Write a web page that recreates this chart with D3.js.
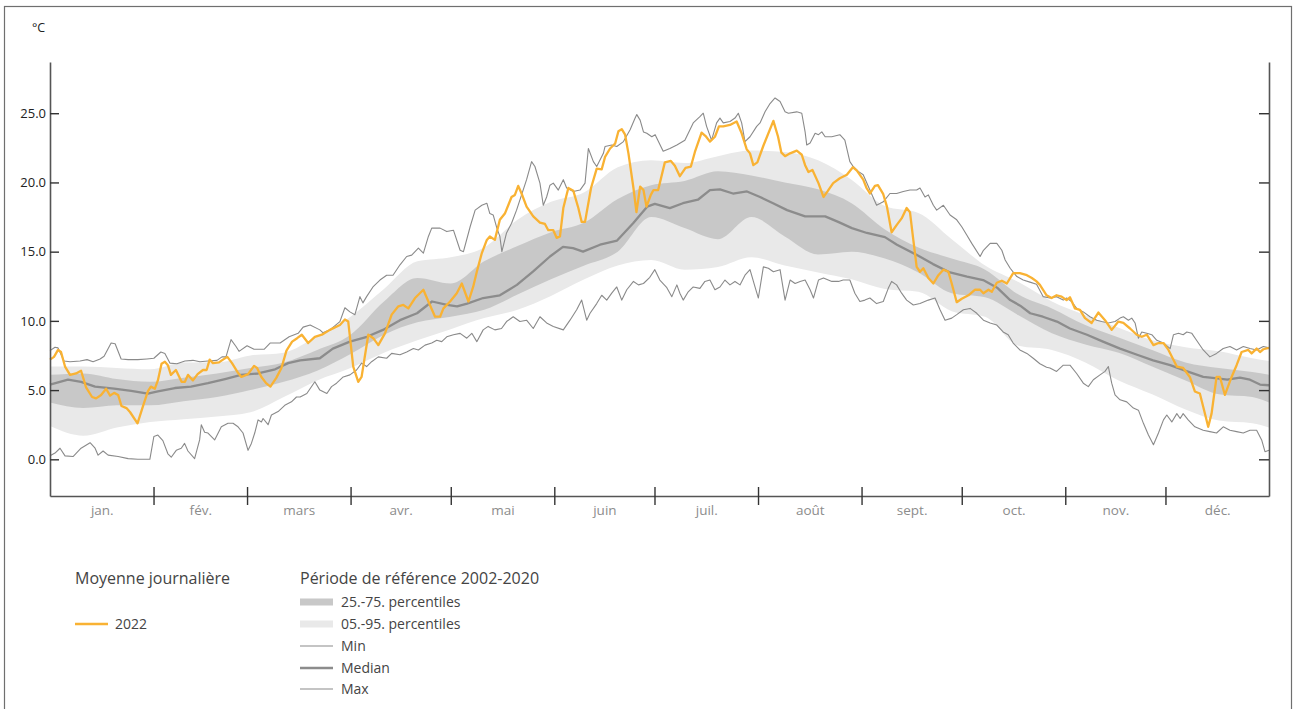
<!DOCTYPE html>
<html>
<head>
<meta charset="utf-8">
<script src="https://cdn.jsdelivr.net/npm/d3@7"></script>
<style>
  html, body { margin: 0; padding: 0; background: #fff; }
  svg { display: block; font-family: "Open Sans", "Noto Sans", sans-serif; }
</style>
</head>
<body>
<svg id="chart" width="1293" height="709"></svg>
<script>
// Daily mean temperature 2022 against the 2002-2020 reference period.
// Day of year (0 = 1 January) and temperature in °C.

const monthLabels = ["jan.", "fév.", "mars", "avr.", "mai", "juin", "juil.", "août", "sept.", "oct.", "nov.", "déc."];
const monthStartDays = [0, 31, 59, 90, 120, 151, 181, 212, 243, 273, 304, 334, 365];
const yTicks = [0, 5, 10, 15, 20, 25];

// Daily mean 2022
const obs2022 = [[0,7.2],[1.2,7.4],[2.4,7.9],[3.3,7.75],[4.5,6.7],[6,6.1],[7.8,6.2],[9.3,6.4],[10.8,5.2],[12.6,4.5],[13.8,4.4],[15.3,4.65],[16.8,5.1],[18,4.6],[19.2,4.8],[20.4,4.65],[21.4,3.85],[22.9,3.7],[24,3.4],[26.2,2.6],[27.8,3.8],[29.3,4.9],[30.2,5.25],[31.4,5.1],[32.3,5.7],[33.4,6.9],[34.4,7.05],[35.3,6.8],[36.2,6.1],[37.7,6.45],[39.4,5.6],[40.4,5.6],[41.3,6.1],[42.8,5.7],[44.2,6.15],[45.8,6.45],[46.9,6.45],[47.8,7.2],[48.8,6.95],[50.6,7.0],[51.8,7.2],[53.1,7.4],[54.5,6.95],[56.3,6.25],[57.3,5.95],[59.3,6.15],[61.1,6.75],[62,6.6],[63.3,5.95],[64.7,5.5],[66,5.25],[67.8,5.9],[69.3,6.6],[70.8,7.85],[72.5,8.5],[74,8.75],[75.4,9.0],[77.3,8.4],[79.3,8.85],[81.4,9.0],[83.8,9.35],[86.8,9.7],[88.3,10.1],[89.3,9.95],[90.8,6.7],[92.3,5.6],[93.3,5.95],[95.3,9.0],[96.8,8.75],[98.3,8.25],[100.3,9.1],[102.3,10.45],[104.3,11.05],[105.8,11.15],[107.3,10.9],[109.3,11.65],[111.8,12.25],[113.3,11.4],[115.3,10.3],[116.8,10.3],[117.8,10.9],[119.8,11.4],[121.8,12.0],[123.3,12.7],[125.3,11.4],[126.7,12.45],[127.8,13.55],[129.3,14.9],[130.8,15.85],[131.7,16.1],[133.2,15.85],[134.7,17.3],[136.2,17.75],[138.2,18.95],[139.2,19.1],[140.2,19.75],[141.2,19.2],[142.7,18.25],[144.7,17.55],[146.7,17.1],[148.2,17.0],[149.2,16.55],[150.7,16.55],[151.7,16.0],[152.7,16.1],[153.7,18.15],[155.2,19.6],[156.7,19.4],[158.2,18.15],[159.2,17.15],[160.2,17.15],[162,19.6],[163.7,21.0],[165.2,20.95],[166.2,21.85],[167.7,22.45],[169.2,22.8],[170.2,23.7],[171.2,23.85],[172.2,23.45],[173.2,22.1],[174.7,19.6],[175.6,17.85],[176.7,19.7],[177.7,19.45],[178.6,18.25],[179.9,19.1],[180.7,19.45],[182.1,19.45],[184.1,21.45],[185.9,21.55],[187.1,21.2],[188.6,20.45],[190.3,21.05],[191.9,21.15],[193.1,22.2],[195.1,23.6],[196.3,23.35],[197.6,22.95],[199.1,23.3],[200.3,24.05],[201.6,24.05],[203.6,24.15],[205.6,24.4],[207.1,23.55],[208.6,22.4],[209.6,22.1],[210.6,21.25],[211.8,21.45],[213.6,22.65],[216.6,24.45],[218,23.3],[219,22.15],[220.1,21.9],[221.6,22.1],[223.6,22.3],[225.1,22.0],[226.1,21.25],[227.1,20.75],[228.3,20.9],[230.1,19.95],[231.6,18.95],[232.8,19.35],[234.5,19.95],[236.5,20.3],[238.6,20.55],[240.4,21.1],[241.6,20.85],[243.5,20.2],[244.5,19.6],[245.5,19.2],[247,19.75],[247.9,19.8],[249.5,19.15],[250.6,18.25],[252,16.4],[253.6,16.95],[255,17.4],[256.5,18.15],[257.5,17.85],[258.5,15.85],[259.5,13.9],[260.5,13.55],[261.5,13.8],[263,13.1],[264.5,12.7],[266,13.3],[267.5,13.7],[269,13.55],[270,12.7],[270.5,12.25],[271.5,11.35],[273,11.6],[275,11.85],[277,12.25],[278.5,12.25],[279.5,12.0],[281,12.25],[282,12.1],[283.5,12.75],[285,12.9],[286.5,12.7],[288.4,13.45],[290.4,13.45],[292.5,13.3],[294,13.1],[295.4,12.85],[296.4,12.6],[298.4,11.85],[299.9,11.65],[301.4,11.85],[302.9,11.75],[304.4,11.5],[305.4,11.7],[306.9,10.9],[308.4,10.8],[309.9,10.2],[311.9,9.85],[313.9,10.6],[315.9,10.05],[317.9,9.35],[319.9,9.95],[321.4,9.85],[323.4,9.45],[325.4,9.0],[326.9,8.85],[328.4,9.0],[330.4,8.25],[331.9,8.4],[333.4,8.4],[334.9,7.9],[337.4,6.7],[339.3,6.6],[341.3,5.95],[342.8,4.9],[344.3,4.75],[345.3,3.8],[346.8,2.35],[347.8,3.3],[349.3,5.95],[350.3,5.95],[351.8,4.65],[353.8,5.95],[355.3,6.8],[356.8,7.75],[358.8,7.9],[359.8,7.65],[361.3,8.0],[362.3,7.75],[363.3,7.95],[365,8.05]];

// Reference period: daily maximum of the daily means
const refMax = [[0,7.85],[1.5,8.1],[2.4,8.05],[4.2,7.1],[6,7.05],[9,7.1],[11.1,7.2],[12.9,7.05],[15,7.25],[16.2,7.45],[18.3,8.4],[19.5,8.35],[21.3,7.25],[23.4,7.2],[26.3,7.2],[29,7.25],[31.1,7.3],[33.2,7.75],[34.4,7.65],[35.9,6.95],[38,6.9],[40.4,7.1],[42.8,7.15],[44.9,7.05],[47.3,7.1],[50,7.15],[51.5,7.4],[52.7,7.4],[54.2,8.65],[55.7,8.15],[56.6,7.8],[59,8.2],[61.1,7.95],[64.1,7.95],[65.9,8.4],[68.9,8.4],[71.6,8.85],[74.3,9.1],[75.8,9.55],[77.9,9.7],[80.8,9.35],[81.7,9.15],[83.8,9.35],[86.8,9.95],[88.3,10.95],[89.8,10.65],[91.3,10.45],[92.8,11.75],[93.7,11.3],[94.8,11.75],[96.7,12.45],[98.8,12.95],[100.8,13.3],[102.7,13.3],[104.8,14.05],[106.8,14.65],[108.3,14.75],[110.3,15.25],[111.8,14.9],[113.3,16.1],[114.3,16.7],[116.8,16.7],[118.8,16.45],[120.8,16.55],[122.8,15.1],[123.8,15.0],[125.8,16.8],[127.3,18.0],[129.3,18.35],[130.8,18.5],[131.7,17.75],[132.7,17.65],[133.8,16.7],[134.7,16.1],[135.3,15.0],[136.7,16.35],[138.2,17.05],[139.7,18.0],[142.7,20.2],[144.2,21.5],[145.2,21.15],[146.7,19.95],[147.7,18.35],[148.7,18.95],[149.7,19.8],[150.7,19.95],[152.2,19.45],[153.7,20.2],[154.7,19.6],[156.7,19.35],[158.7,19.45],[160.2,19.95],[161.2,22.45],[162.7,21.5],[163.7,21.15],[165.7,22.1],[166.2,22.6],[168.2,22.7],[169.7,22.6],[171.7,22.95],[173.7,23.8],[175.2,24.65],[175.7,24.9],[176.7,24.5],[177.7,23.65],[178.7,23.55],[180.2,23.3],[181.2,23.45],[183.6,22.25],[185.6,22.45],[187.7,22.7],[190.1,23.05],[192.6,24.3],[194.6,24.75],[195.6,25.0],[196.6,24.05],[198.1,23.05],[199.6,24.3],[200.6,24.65],[201.6,24.3],[203.6,24.4],[205.1,24.65],[206.1,25.0],[207.1,24.3],[208.1,22.95],[209.6,23.3],[211.6,24.05],[212.6,24.3],[214.1,25.1],[215.6,25.7],[217.1,26.1],[218.6,25.85],[220.1,25.1],[221.1,25.0],[223.6,25.1],[225.1,25.0],[226.1,23.65],[226.6,22.7],[227.6,22.85],[229.1,23.55],[230.1,23.45],[231.1,23.65],[232.1,23.3],[234.1,23.3],[236.5,23.45],[238,23.05],[239.5,21.5],[240.5,21.15],[242,20.8],[243.5,20.55],[245.5,19.45],[247.5,18.35],[249.5,18.6],[251.5,19.2],[253.5,19.2],[255.5,19.35],[257.5,19.45],[259.5,19.45],[260.5,19.6],[262,18.95],[263,19.1],[264.5,18.35],[265.5,18.0],[267.5,18.35],[269.5,17.65],[271.5,17.3],[273,16.8],[274.5,16.2],[276,15.6],[278.5,14.65],[279.5,15.1],[281.5,15.6],[283.5,15.6],[285,15.1],[286,14.4],[287.5,13.8],[289.5,13.2],[291.4,12.95],[293.4,12.8],[295.4,12.65],[297.4,11.75],[299.4,11.65],[301.4,11.75],[303.4,11.5],[304.4,11.65],[305.9,11.4],[307.4,10.9],[309.4,10.65],[311.4,10.3],[313.4,10.05],[314.9,9.95],[316.9,9.85],[318.9,9.95],[320.4,10.2],[321.4,10.3],[322.9,10.05],[323.9,10.2],[324.9,9.85],[325.9,8.75],[326.9,9.2],[328.4,9.1],[329.9,9.0],[331.4,8.6],[333.4,8.4],[335.4,8.0],[336.4,9.0],[337.9,9.1],[339.3,9.0],[340.4,9.2],[341.9,9.1],[343.3,8.6],[345.3,7.9],[347.3,7.4],[349.3,7.65],[351.3,8.0],[353.3,8.15],[355.3,7.9],[357.3,8.15],[359.3,8.0],[361.3,7.9],[363.3,8.15],[365,8.05]];

// Reference period: daily minimum of the daily means
const refMin = [[0,0.25],[1.5,0.45],[3,0.8],[4.5,0.25],[6.9,0.2],[9.3,0.8],[12,1.2],[13.5,0.8],[14.4,0.3],[15.9,0.6],[17.4,0.3],[20.4,0.2],[23.4,0.05],[26.3,0.0],[29.9,0.0],[31.1,1.65],[32.3,1.75],[33.8,1.35],[35.3,0.4],[36.3,0.15],[37.8,0.65],[39.3,0.8],[40.3,1.15],[41.3,0.6],[43.3,0.05],[44.8,1.4],[45.3,2.5],[46.3,1.95],[47.3,1.9],[49.3,1.4],[51.3,2.35],[53.3,2.6],[54.8,2.6],[56.3,2.35],[57.8,1.9],[59.3,0.65],[60.3,1.15],[61.3,1.9],[62.3,2.85],[63.3,2.7],[63.8,2.95],[65.3,2.5],[66.3,3.2],[68.3,3.45],[70.3,3.9],[72.3,4.15],[73.8,4.5],[74.9,4.5],[76.9,4.75],[79.3,5.6],[80.8,5.0],[82.9,4.75],[84.3,5.25],[85.8,5.5],[87.8,5.95],[89.8,6.1],[91.8,6.45],[93.3,6.95],[94.8,6.7],[96.3,7.05],[98.3,7.4],[100.8,7.3],[102.3,7.65],[104.8,7.55],[106.8,7.75],[108.8,8.0],[110.3,7.9],[112.3,8.25],[114.3,8.4],[115.8,8.6],[117.3,8.5],[118.8,8.85],[120.8,9.0],[122.8,9.1],[124.8,8.75],[126.3,9.1],[127.8,8.5],[129.7,9.35],[131.2,9.6],[133.2,9.35],[135.2,9.45],[136.7,9.95],[138.7,10.3],[140.7,9.95],[142.7,10.05],[144.7,9.45],[146.7,10.3],[148.7,9.85],[150.7,9.6],[153.7,9.35],[155.7,10.05],[157.7,10.8],[159.2,11.5],[160.7,10.05],[161.7,10.55],[163.7,11.25],[165.2,11.85],[166.7,11.5],[168.2,12.0],[169.7,12.45],[171.2,11.5],[172.7,12.25],[174.7,12.85],[176.2,12.6],[177.7,12.7],[179.6,13.15],[181.1,13.7],[182.6,12.95],[184.7,12.4],[186.2,11.75],[187.7,12.6],[188.6,12.0],[189.6,11.5],[191.1,12.1],[192.6,12.45],[194.6,12.35],[196.1,12.85],[197.6,12.95],[199.1,12.25],[200.6,12.45],[202.1,12.95],[203.6,12.6],[205.1,12.85],[206.6,12.6],[208.1,13.3],[209.6,13.7],[211.1,12.45],[212.1,11.65],[213.6,13.9],[215.1,13.8],[216.6,13.55],[218.6,13.7],[220.1,11.5],[221.6,12.95],[223.1,12.7],[224.6,12.85],[226.1,12.95],[227.6,12.25],[228.6,11.65],[230.1,12.95],[231.6,13.1],[234.1,12.85],[236.1,12.85],[237.5,12.95],[239.5,12.95],[241,12.0],[242.5,11.4],[244,11.5],[245.5,11.65],[247.5,11.25],[249.5,11.4],[251,12.35],[252,12.85],[253.5,12.6],[255,12.0],[256.5,11.5],[258.5,11.15],[260.5,11.25],[263,11.5],[265,11.65],[266.5,10.8],[268,10.05],[270,10.2],[271.5,10.45],[273.5,10.8],[275.5,10.9],[277.5,10.55],[279.5,10.05],[281.5,9.85],[283.5,9.7],[285.4,9.2],[286.9,9.0],[288.4,8.4],[290.4,7.9],[292.5,7.65],[294.4,7.3],[296.4,6.9],[298.4,6.65],[299.4,6.6],[301.4,6.35],[303.4,6.8],[305.4,6.8],[307.4,6.2],[309.4,5.5],[310.9,5.25],[312.4,5.75],[314.4,6.1],[315.9,6.35],[316.9,6.7],[317.9,5.5],[318.9,4.65],[320.4,4.3],[322.4,4.15],[324.4,3.7],[325.9,3.55],[327.4,2.6],[328.9,1.75],[330.4,1.05],[331.9,1.9],[333.4,2.85],[334.4,3.2],[335.9,2.7],[337.4,3.3],[338.4,2.95],[339.3,3.3],[340.8,2.85],[342.8,2.35],[345.3,2.1],[347.3,2.0],[349.3,1.9],[351.3,2.35],[353.3,2.1],[355.3,2.0],[357.3,1.9],[359.3,2.1],[361.3,2.1],[362.8,1.4],[363.8,0.55],[365,0.65]];

// Reference period: daily median
const refMedian = [[0,5.4],[5.4,5.75],[9.3,5.6],[13.5,5.25],[19.2,5.1],[24.3,4.95],[29.3,4.75],[32.3,4.9],[37.4,5.15],[42.2,5.25],[47.3,5.5],[52.4,5.8],[57.2,6.1],[62.3,6.2],[67.4,6.5],[71.3,6.95],[74.9,7.15],[80.8,7.3],[84.7,8.0],[89.8,8.5],[94.9,8.85],[99.7,9.35],[104.8,10.05],[109.9,10.55],[114.4,11.4],[118.9,11.15],[121.9,11.05],[124.9,11.25],[129.7,11.65],[134.7,11.85],[139.8,12.6],[144.6,13.55],[149.7,14.65],[153.6,15.35],[156.6,15.25],[159.6,15.0],[164.7,15.5],[169.8,15.8],[174.6,17.05],[178.8,18.25],[181.1,18.45],[185.6,18.15],[189.5,18.5],[194,18.75],[197.6,19.45],[200.6,19.5],[204.5,19.2],[208.7,19.35],[212.6,18.95],[216.5,18.5],[220.7,18.0],[226.1,17.55],[232.1,17.55],[236,17.15],[240.1,16.7],[244.6,16.35],[250,16.05],[253.6,15.5],[259.6,14.75],[264.4,14.1],[269.5,13.5],[274.6,13.2],[279.4,12.95],[283.6,12.4],[287.5,11.5],[290.5,11.1],[293.5,10.55],[297.3,10.3],[301.5,9.95],[305.4,9.45],[310.5,9.0],[315.3,8.5],[320.4,8.0],[325.5,7.55],[330.3,7.15],[335.4,6.8],[340.5,6.35],[345.3,5.95],[349.5,5.85],[352.5,5.75],[356.3,5.9],[359.3,5.75],[362.3,5.4],[365,5.35]];

// Reference period percentiles, read every ten days
const bandDays = [0,10,20,30,40,50,60,70,80,90,100,110,120,130,140,150,160,170,180,190,200,210,220,230,240,250,260,270,280,290,300,310,320,330,340,350,360,365];
const p05 = [2.4,1.7,2.3,2.7,2.9,3.1,3.4,4.5,5.7,6.6,7.7,8.6,9.4,10.2,10.8,11.8,13.0,14.0,14.4,13.7,13.9,14.6,14.0,13.5,13.0,12.3,12.1,10.7,10.3,8.2,7.9,7.0,5.7,4.7,3.6,2.8,2.6,2.3];
const p25 = [4.1,3.7,3.9,3.9,4.2,4.5,5.0,5.6,6.4,7.6,9.0,9.9,10.3,10.8,11.9,13.0,14.0,15.0,17.5,16.7,15.9,17.5,16.1,14.8,15.0,14.5,13.5,12.0,11.7,10.4,9.1,8.3,7.7,6.7,5.7,4.7,4.5,4.1];
const p75 = [6.1,6.2,5.8,5.6,5.9,6.2,6.6,7.0,7.9,9.0,11.4,13.1,12.7,14.3,15.4,16.4,17.1,18.8,19.8,20.1,20.8,20.5,20.0,19.5,18.5,16.6,15.3,14.5,13.7,11.9,10.9,9.7,8.8,7.9,7.0,6.6,6.3,6.1];
const p95 = [6.7,6.7,6.6,6.5,7.0,7.0,7.5,7.7,8.9,10.3,12.3,14.3,14.6,15.3,17.3,18.6,19.3,21.1,21.6,21.4,21.9,22.3,22.2,21.6,20.2,18.3,17.8,15.9,14.0,12.8,11.4,10.4,9.5,8.6,8.1,7.8,7.3,7.1];

const COLORS = {
  obs: "#f9b233",
  band50: "#c8c8c8",
  band90: "#e9e9e9",
  median: "#8c8c8c",
  extreme: "#8a8a8a",
  axis: "#555555",
  text: "#444444"
};

const svg = d3.select("#chart");

// frame round the figure
svg.append("rect")
  .attr("x", 4.5).attr("y", 6.5)
  .attr("width", 1287).attr("height", 720)
  .attr("fill", "none").attr("stroke", "#6f6f6f").attr("stroke-width", 1.2);

const x = d3.scaleLinear().domain([0, 365]).range([50, 1269]);
const y = d3.scaleLinear().domain([-2.65, 28.7]).range([496, 62]);

const bandRows = bandDays.map((d, i) => ({ day: d, p05: p05[i], p25: p25[i], p75: p75[i], p95: p95[i] }));

const plot = svg.append("g");

plot.append("path")
  .datum(bandRows)
  .attr("fill", COLORS.band90)
  .attr("d", d3.area().curve(d3.curveMonotoneX)
    .x(d => x(d.day)).y0(d => y(d.p05)).y1(d => y(d.p95)));

plot.append("path")
  .datum(bandRows)
  .attr("fill", COLORS.band50)
  .attr("d", d3.area().curve(d3.curveMonotoneX)
    .x(d => x(d.day)).y0(d => y(d.p25)).y1(d => y(d.p75)));

const line = d3.line().x(d => x(d[0])).y(d => y(d[1]));

plot.append("path").datum(refMin)
  .attr("fill", "none").attr("stroke", COLORS.extreme).attr("stroke-width", 1.1)
  .attr("stroke-linejoin", "round").attr("d", line);

plot.append("path").datum(refMax)
  .attr("fill", "none").attr("stroke", COLORS.extreme).attr("stroke-width", 1.1)
  .attr("stroke-linejoin", "round").attr("d", line);

plot.append("path").datum(refMedian)
  .attr("fill", "none").attr("stroke", COLORS.median).attr("stroke-width", 2.3)
  .attr("stroke-linejoin", "round").attr("d", line);

plot.append("path").datum(obs2022)
  .attr("fill", "none").attr("stroke", COLORS.obs).attr("stroke-width", 2.3)
  .attr("stroke-linejoin", "round").attr("d", line);

// axes
function styleAxis(g) {
  g.select(".domain").attr("stroke", COLORS.axis).attr("stroke-width", 1.6);
  g.selectAll(".tick line").attr("stroke", "#333").attr("stroke-width", 1.4);
}

const yLeft = svg.append("g")
  .attr("transform", `translate(${x(0)},0)`)
  .call(d3.axisLeft(y).tickValues(yTicks).tickFormat(d3.format(".1f"))
    .tickSizeInner(-9).tickSizeOuter(0).tickPadding(4))
  .call(styleAxis);
yLeft.selectAll(".tick text")
  .attr("fill", "#222").attr("font-size", 13)
  .style("font-family", '"Open Sans", "Noto Sans", sans-serif');

svg.append("g")
  .attr("transform", `translate(${x(365)},0)`)
  .call(d3.axisRight(y).tickValues(yTicks).tickFormat("")
    .tickSizeInner(-10).tickSizeOuter(0))
  .call(styleAxis);

const xAxis = svg.append("g")
  .attr("transform", `translate(0,${y.range()[0]})`)
  .call(d3.axisBottom(x).tickValues(monthStartDays.slice(1, -1)).tickFormat("")
    .tickSizeInner(9).tickSizeOuter(0))
  .call(styleAxis);
xAxis.selectAll(".tick line").attr("y1", -9);

const monthMid = monthLabels.map((m, i) => (monthStartDays[i] + monthStartDays[i + 1]) / 2);
const xLabels = svg.append("g")
  .attr("transform", `translate(0,${y.range()[0]})`)
  .call(d3.axisBottom(x).tickValues(monthMid).tickFormat((d, i) => monthLabels[i])
    .tickSize(0).tickPadding(9));
xLabels.select(".domain").remove();
xLabels.selectAll(".tick text")
  .attr("fill", "#8c8c8c").attr("font-size", 13.5)
  .style("font-family", '"Open Sans", "Noto Sans", sans-serif');

svg.append("text")
  .attr("x", 32).attr("y", 32)
  .attr("font-size", 12.5).attr("fill", "#222")
  .text("°C");

// legend
const lg = svg.append("g").attr("fill", COLORS.text);

lg.append("text").attr("x", 75).attr("y", 578).attr("dy", "0.35em")
  .attr("font-size", 16).text("Moyenne journalière");
lg.append("line").attr("x1", 75).attr("x2", 108).attr("y1", 624).attr("y2", 624)
  .attr("stroke", COLORS.obs).attr("stroke-width", 2.3);
lg.append("text").attr("x", 115).attr("y", 624).attr("dy", "0.35em")
  .attr("font-size", 14).text("2022");

lg.append("text").attr("x", 300).attr("y", 578).attr("dy", "0.35em")
  .attr("font-size", 16).text("Période de référence 2002-2020");

const refItems = [
  { label: "25.-75. percentiles", kind: "rect", color: COLORS.band50, cy: 602 },
  { label: "05.-95. percentiles", kind: "rect", color: COLORS.band90, cy: 624 },
  { label: "Min", kind: "line", color: COLORS.extreme, width: 1.1, cy: 646 },
  { label: "Median", kind: "line", color: COLORS.median, width: 2.4, cy: 668 },
  { label: "Max", kind: "line", color: COLORS.extreme, width: 1.1, cy: 689 }
];
refItems.forEach(it => {
  if (it.kind === "rect") {
    lg.append("rect").attr("x", 300).attr("y", it.cy - 3.5).attr("width", 33).attr("height", 7)
      .attr("fill", it.color);
  } else {
    lg.append("line").attr("x1", 300).attr("x2", 333).attr("y1", it.cy).attr("y2", it.cy)
      .attr("stroke", it.color).attr("stroke-width", it.width);
  }
  lg.append("text").attr("x", 341).attr("y", it.cy).attr("dy", "0.35em")
    .attr("font-size", 14).text(it.label);
});
</script>
</body>
</html>
